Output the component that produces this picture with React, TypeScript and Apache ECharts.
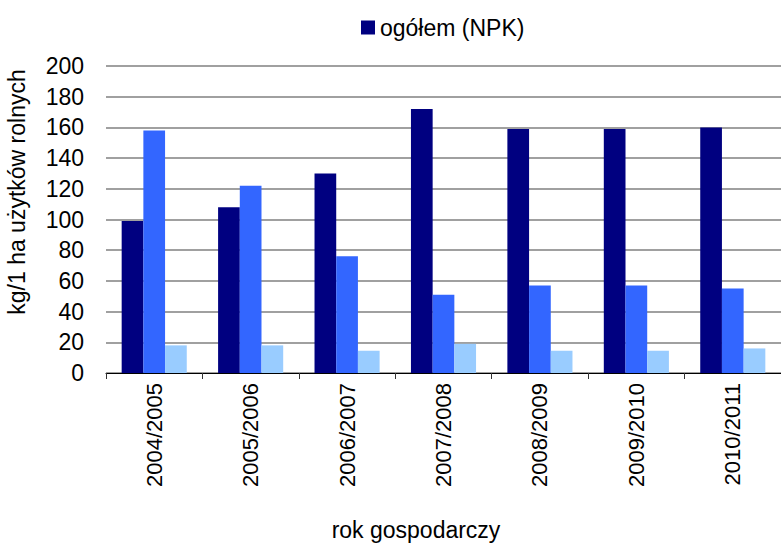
import React, { useEffect, useRef } from "react";
import * as echarts from "echarts";

// Sezony (lata gospodarcze)
const seasons = [
  "2004/2005",
  "2005/2006",
  "2006/2007",
  "2007/2008",
  "2008/2009",
  "2009/2010",
  "2010/2011",
];

// Nawozy mineralne ogółem (NPK), kg/1 ha
const npkTotal = [99, 108, 130, 172, 159, 159, 160];
// Druga seria (niebieska)
const seriesB = [158, 122, 76, 51, 57, 57, 55];
// Trzecia seria (jasnoniebieska)
const seriesC = [18, 18, 14.5, 19, 14.5, 14.5, 16];

const yTicks = { min: 0, max: 200, step: 20 };

const FONT = "'Liberation Sans', Arial, sans-serif";

export default function App() {
  const ref = useRef<HTMLDivElement>(null);

  useEffect(() => {
    if (!ref.current) return;
    const chart = echarts.init(ref.current, null, { renderer: "svg" });

    const barStyle = (color: string) => ({
      type: "bar" as const,
      barWidth: 21.7,
      barGap: "0%",
      itemStyle: { color },
    });

    chart.setOption({
      animation: false,
      textStyle: { fontFamily: FONT, color: "#000" },
      legend: {
        data: ["ogółem (NPK)"],
        left: 356,
        top: 11,
        itemWidth: 14,
        itemHeight: 14,
        itemGap: 3,
        icon: "rect",
        textStyle: { fontSize: 23, fontFamily: FONT, color: "#000" },
      },
      grid: { left: 106, top: 66, height: 307, width: 681 },
      xAxis: {
        type: "category",
        data: seasons,
        axisLine: { lineStyle: { color: "#000", width: 1 } },
        axisTick: { show: true, length: 6, lineStyle: { color: "#333" } },
        axisLabel: {
          rotate: 90,
          fontSize: 22,
          margin: 10,
          color: "#000",
          fontFamily: FONT,
        },
      },
      yAxis: {
        type: "value",
        min: yTicks.min,
        max: yTicks.max,
        interval: yTicks.step,
        axisLine: { show: false },
        axisTick: { show: false },
        axisLabel: { fontSize: 23, margin: 22, color: "#000", fontFamily: FONT },
        splitLine: { lineStyle: { color: "#808080", width: 1.5 } },
      },
      graphic: [
        {
          type: "text",
          x: 17,
          y: 192,
          rotation: Math.PI / 2,
          style: {
            text: "kg/1 ha użytków rolnych",
            font: `23px ${FONT}`,
            fill: "#000",
            textAlign: "center",
            textVerticalAlign: "middle",
          },
        },
        {
          type: "text",
          x: 416,
          y: 530,
          style: {
            text: "rok gospodarczy",
            font: `23px ${FONT}`,
            fill: "#000",
            textAlign: "center",
            textVerticalAlign: "middle",
          },
        },
      ],
      series: [
        { name: "ogółem (NPK)", data: npkTotal, ...barStyle("#000080") },
        { name: "seria B", data: seriesB, ...barStyle("#3366FF") },
        { name: "seria C", data: seriesC, ...barStyle("#99CCFF") },
      ],
    });

    return () => chart.dispose();
  }, []);

  return (
    <div
      ref={ref}
      style={{
        position: "absolute",
        left: 0,
        top: 0,
        width: 781,
        height: 545,
        background: "#fff",
      }}
    />
  );
}
